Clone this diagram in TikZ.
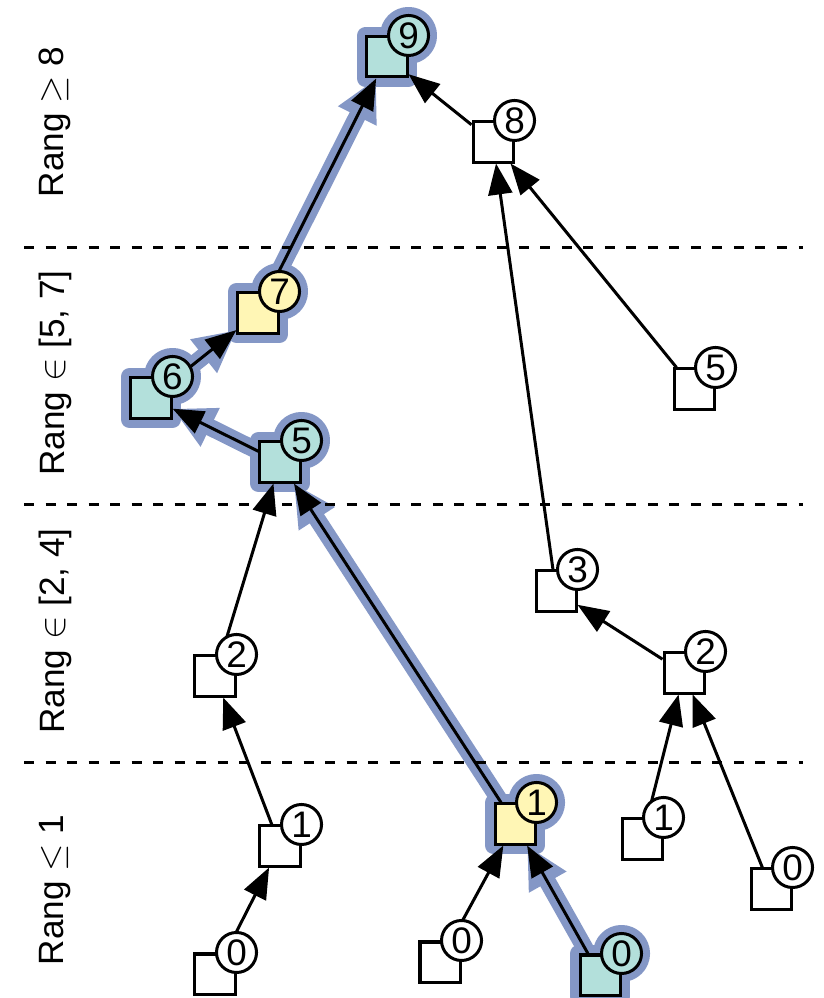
\documentclass[tikz,border=0pt]{standalone}
\usepackage{fontspec}
\setmainfont{Liberation Sans}
\usetikzlibrary{arrows.meta,backgrounds}
\definecolor{rootfill}{HTML}{B3E0DB}
\definecolor{linkfill}{HTML}{FFF6B5}
\definecolor{pathhalo}{HTML}{8497C6}

\begin{document}
\begin{tikzpicture}[x=0.01cm,y=-0.01cm,
        elem/.style={draw,line width=0.03cm,fill=white,rectangle,minimum size=0.40cm,inner sep=0pt},
        rank/.style={draw,line width=0.03cm,fill=white,circle,minimum size=0.40cm,inner sep=0pt,font=\fontsize{10.5}{12}\selectfont},
        link/.style={line width=0.03cm,-{Triangle[length=0.31cm,width=0.24cm]}},
        halo/.style={draw=pathhalo,line width=0.17cm,line join=round},
        halolink/.style={halo,-{Triangle[length=0.42cm,width=0.40cm]}},
        level/.style={line width=0.03cm,dash pattern=on 0.1cm off 0.115cm}]
        \useasboundingbox (0,0) rectangle (823,998);
        %% Rank bands
        \draw[level] (24,248) -- (803,248);
        \draw[level] (24,505) -- (803,505);
        \draw[level] (24,762) -- (803,762);
        \node[rotate=90] (g4) at (55,122) {Rang $\geq$ 8};
        \node[rotate=90] (g3) at (55,373) {Rang $\in$ [5, 7]};
        \node[rotate=90] (g2) at (55,631) {Rang $\in$ [2, 4]};
        \node[rotate=90] (g1) at (55,890) {Rang $\leq$ 1};
        %% Elements
        \node[elem,fill=rootfill] (s9) at (387,57) {};
        \node[elem] (s8) at (493,142) {};
        \node[elem,fill=linkfill] (s7) at (258,313) {};
        \node[elem,fill=rootfill] (s6) at (151,398) {};
        \node[elem,fill=rootfill] (s5a) at (280,462) {};
        \node[elem] (s5b) at (694,389) {};
        \node[elem] (s3) at (556,591) {};
        \node[elem] (s2a) at (215,676) {};
        \node[elem] (s2b) at (684,673) {};
        \node[elem] (s1a) at (280,846) {};
        \node[elem,fill=linkfill] (s1b) at (515,824) {};
        \node[elem] (s1c) at (642,839) {};
        \node[elem] (s0a) at (215,974) {};
        \node[elem] (s0b) at (440,962) {};
        \node[elem,fill=rootfill] (s0c) at (600,975) {};
        \node[elem] (s0d) at (771,889) {};
        %% Parent pointers
        \draw[link] (s0a) -- (s1a);
        \draw[link] (s1a) -- (s2a);
        \draw[link] (s2a) -- (s5a);
        \draw[link] (s0b) -- (s1b);
        \draw[link] (s0c) -- (s1b);
        \draw[link] (s1b) -- (s5a);
        \draw[link] (s5a) -- (s6);
        \draw[link] (s6) -- (s7);
        \draw[link] (s7) -- (s9);
        \draw[link] (s1c) -- (s2b);
        \draw[link] (s0d) -- (s2b);
        \draw[link] (s2b) -- (s3);
        \draw[link] (s3) -- (s8);
        \draw[link] (s5b) -- (s8);
        \draw[link] (s8) -- (s9);
        %% Ranks
        \node[rank,fill=rootfill] (r9) at (s9.north east) {9};
        \node[rank] (r8) at (s8.north east) {8};
        \node[rank,fill=linkfill] (r7) at (s7.north east) {7};
        \node[rank,fill=rootfill] (r6) at (s6.north east) {6};
        \node[rank,fill=rootfill] (r5a) at (s5a.north east) {5};
        \node[rank] (r5b) at (s5b.north east) {5};
        \node[rank] (r3) at (s3.north east) {3};
        \node[rank] (r2a) at (s2a.north east) {2};
        \node[rank] (r2b) at (s2b.north east) {2};
        \node[rank] (r1a) at (s1a.north east) {1};
        \node[rank,fill=linkfill] (r1b) at (s1b.north east) {1};
        \node[rank] (r1c) at (s1c.north east) {1};
        \node[rank] (r0a) at (s0a.north east) {0};
        \node[rank] (r0b) at (s0b.north east) {0};
        \node[rank,fill=rootfill] (r0c) at (s0c.north east) {0};
        \node[rank] (r0d) at (s0d.north east) {0};
        %% Find path, drawn behind
        \begin{pgfonlayer}{background}
            \foreach \n in {s0c,s1b,s5a,s6,s7,s9}
                \draw[halo] (\n.south west) rectangle (\n.north east);
            \foreach \n in {r0c,r1b,r5a,r6,r7,r9}
                \draw[halo] (\n.center) circle[radius=0.2cm];
            \draw[halolink] (s0c) -- (s1b);
            \draw[halolink] (s1b) -- (s5a);
            \draw[halolink] (s5a) -- (s6);
            \draw[halolink] (s6) -- (s7);
            \draw[halolink] (s7) -- (s9);
        \end{pgfonlayer}
\end{tikzpicture}
\end{document}
